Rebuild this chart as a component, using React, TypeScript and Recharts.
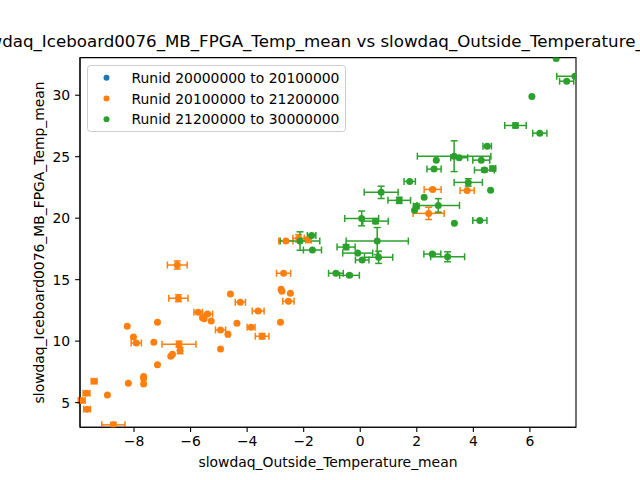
import React from 'react';
import {
  ScatterChart,
  Scatter,
  XAxis,
  YAxis,
  ErrorBar,
  ReferenceArea,
  Legend,
  Customized,
} from 'recharts';

// ---- data ----
const seriesNames = [
  'Runid 20000000 to 20100000',
  'Runid 20100000 to 21200000',
  'Runid 21200000 to 30000000',
];
const seriesColors = ['#1f77b4', '#ff7f0e', '#2ca02c'];

const blueX: number[] = [];
const blueY: number[] = [];
const blueEx: number[] = [];
const blueEy: number[] = [];

const orangeX = [
  -6.47, -6.43, -4.59, -4.24, -3.61, -5.73, -5.4, -5.58, -5.52, -5.27, -4.36, -7.17, -8.24,
  -4.94, -4.68, -3.86, -3.47, -8.02, -7.92, -7.3, -6.41, -6.37, -4.94, -6.7, -6.64, -7.17,
  -7.66, -7.66, -7.66, -8.2, -9.41, -9.68, -8.94, -9.85, -9.66, -8.73, -2.82, -2.71, -2.8,
  -2.77, -2.47, -2.54, -2.63, -2.18, -1.83, 2.56, 3.78, 2.42,
];
const orangeY = [
  16.19, 13.49, 13.83, 13.16, 12.45, 12.35, 12.21, 11.91, 11.83, 11.64, 11.45, 11.53, 11.21,
  10.91, 10.56, 11.13, 10.4, 10.34, 9.85, 9.91, 9.75, 9.23, 9.37, 8.77, 8.93, 8.07,
  7.12, 6.97, 6.52, 6.58, 6.74, 5.77, 5.61, 5.17, 4.47, 3.19, 11.53, 15.52, 14.22,
  14.05, 13.89, 13.24, 18.14, 18.36, 18.22, 22.34, 22.26, 20.39,
];
const orangeEx = [
  0.35, 0.34, 0, 0.18, 0.21, 0.15, 0.18, 0, 0, 0, 0, 0, 0,
  0.18, 0.05, 0.14, 0.24, 0, 0.18, 0, 0.6, 0, 0, 0, 0, 0,
  0, 0, 0, 0, 0.1, 0.12, 0, 0.12, 0.12, 0.41, 0, 0.25, 0,
  0, 0, 0.2, 0.25, 0.2, 0.1, 0.3, 0.25, 0.55,
];
const orangeEy = [
  0.33, 0.28, 0, 0, 0.05, 0, 0.05, 0, 0, 0, 0, 0, 0,
  0, 0, 0, 0.22, 0, 0, 0, 0.25, 0.25, 0, 0, 0, 0,
  0, 0, 0, 0, 0, 0, 0, 0, 0, 0.2, 0, 0, 0,
  0, 0, 0, 0, 0.3, 0, 0.1, 0, 0.5,
];

const greenX = [
  6.93, 7.59, 7.3, 6.07, 5.49, 6.35, 4.49, 3.32, 3.5, 2.69, 4.28, 2.61, 4.39, 4.69,
  1.75, 3.82, 4.61, 0.74, 2.26, 1.38, 2.76, 1.98, 1.92, 3.33, 4.23, 0.05, 0.54, 0.6,
  -0.5, -0.09, 0.07, 0.65, -0.86, -0.38, -1.72, -2.13, -1.69, 2.55, 3.09,
];
const greenY = [
  32.98, 31.54, 31.14, 29.89, 27.54, 26.91, 25.86, 25.04, 24.92, 24.72, 24.72, 23.99, 23.91, 24.05,
  22.99, 22.91, 22.28, 22.1, 21.71, 21.45, 21.04, 20.98, 20.65, 19.58, 19.82, 19.98, 19.76, 18.14,
  17.65, 17.16, 16.6, 16.82, 15.52, 15.35, 18.6, 18.14, 17.41, 17.08, 16.86,
];
const greenEx = [
  0, 0.64, 0.25, 0, 0.38, 0.25, 0.15, 1.3, 0.3, 0, 0.3, 0.25, 0.35, 0.1,
  0.2, 0.5, 0, 0.6, 0, 0.4, 0.75, 0.1, 0, 0, 0.25, 0.6, 0.45, 1.1,
  0.32, 0.53, 0.24, 0.5, 0.26, 0.35, 0.15, 0.7, 0.32, 0.3, 0.6,
];
const greenEy = [
  0, 0, 0, 0, 0.2, 0, 0, 1.25, 0, 0, 0, 0, 0.15, 0,
  0, 0.3, 0, 0.5, 0, 0.25, 0.55, 0, 0, 0, 0, 0.6, 0.2, 1.1,
  0.2, 0, 0, 0.5, 0, 0.1, 0, 0.75, 0, 0.1, 0.4,
];

const xTicks = [-8, -6, -4, -2, 0, 2, 4, 6];
const yTicks = [5, 10, 15, 20, 25, 30];
const xDomain: [number, number] = [-9.91, 7.63];
const yDomain: [number, number] = [3.0, 33.06];

const titleText = 'slowdaq_Iceboard0076_MB_FPGA_Temp_mean vs slowdaq_Outside_Temperature_mean';
const xLabel = 'slowdaq_Outside_Temperature_mean';
const yLabel = 'slowdaq_Iceboard0076_MB_FPGA_Temp_mean';

const build = (xs: number[], ys: number[], exs: number[], eys: number[]) =>
  xs.map((x, i) => ({ x, y: ys[i], ex: exs[i], ey: eys[i] }));

const seriesData = [
  build(blueX, blueY, blueEx, blueEy),
  build(orangeX, orangeY, orangeEx, orangeEy),
  build(greenX, greenY, greenEx, greenEy),
];

const FONT = '"DejaVu Sans", sans-serif';

const fmt = (v: number) => (v < 0 ? '\u2212' + Math.abs(v) : String(v));

const dot = (color: string) => (props: any) => {
  if (props.cx == null || props.cy == null) return <g />;
  return <circle cx={props.cx} cy={props.cy} r={3.5} fill={color} />;
};

const LegendBox = (props: any) => {
  const payload = props.payload || [];
  return (
    <svg width={260} height={68} style={{ display: 'block', fontFamily: FONT }}>
      <rect x={0.5} y={0.5} width={258} height={66} rx={3} fill="#ffffff" fillOpacity={0.8} stroke="#cccccc" />
      {payload.map((p: any, i: number) => (
        <g key={i}>
          <circle cx={19.5} cy={12.7 + i * 20.8} r={3} fill={p.color} />
          <text x={44.5} y={12.7 + i * 20.8} dy="0.36em" fontSize={13.9} fill="#000">
            {p.value}
          </text>
        </g>
      ))}
    </svg>
  );
};

const Texts = () => (
  <g style={{ fontFamily: FONT }}>
    <text x={328} y={47} textAnchor="middle" fontSize={16.67} fill="#000" fontFamily={FONT}>
      {titleText}
    </text>
    <text x={328} y={467} textAnchor="middle" fontSize={13.9} fill="#000" fontFamily={FONT}>
      {xLabel}
    </text>
    <text
      x={0}
      y={0}
      transform="translate(44,242.4) rotate(-90)"
      textAnchor="middle"
      fontSize={13.9}
      fill="#000"
      fontFamily={FONT}
    >
      {yLabel}
    </text>
  </g>
);

export default function App() {
  return (
    <div style={{ position: 'absolute', left: 0, top: 0, width: 640, height: 480, background: '#fff' }}>
      <ScatterChart
        width={640}
        height={480}
        margin={{ top: 57.6, right: 64, bottom: 22.8, left: 20 }}
        style={{ fontFamily: FONT }}
      >
        <XAxis
          type="number"
          dataKey="x"
          domain={xDomain}
          ticks={xTicks}
          allowDataOverflow
          height={30}
          tickSize={4.9}
          tickMargin={4.5}
          tickFormatter={fmt}
          stroke="#000"
          tick={{ fill: '#000', fontSize: 13.9, fontFamily: FONT }}
          tickLine={{ stroke: '#000', strokeWidth: 1.1 }}
          axisLine={{ stroke: '#000', strokeWidth: 1.1 }}
        />
        <YAxis
          type="number"
          dataKey="y"
          domain={yDomain}
          ticks={yTicks}
          allowDataOverflow
          width={60}
          tickSize={4.9}
          tickMargin={4.9}
          tickFormatter={fmt}
          stroke="#000"
          tick={{ fill: '#000', fontSize: 13.9, fontFamily: FONT }}
          tickLine={{ stroke: '#000', strokeWidth: 1.1 }}
          axisLine={{ stroke: '#000', strokeWidth: 1.1 }}
        />
        {seriesData.map((d, i) => (
          <Scatter
            key={i}
            name={seriesNames[i]}
            data={d}
            fill={seriesColors[i]}
            isAnimationActive={false}
            shape={dot(seriesColors[i])}
          >
            <ErrorBar dataKey="ex" direction="x" width={3.5} stroke={seriesColors[i]} strokeWidth={1.5} isAnimationActive={false} />
            <ErrorBar dataKey="ey" direction="y" width={3.5} stroke={seriesColors[i]} strokeWidth={1.5} isAnimationActive={false} />
          </Scatter>
        ))}
        <Customized component={Texts} />
        <ReferenceArea
          x1={xDomain[0]}
          x2={xDomain[1]}
          y1={yDomain[0]}
          y2={yDomain[1]}
          fill="none"
          stroke="#000"
          strokeWidth={1.1}
          ifOverflow="visible"
        />
        <Legend
          layout="horizontal"
          verticalAlign="middle"
          align="center"
          content={LegendBox}
          wrapperStyle={{ position: 'absolute', left: 87, top: 65, width: 260, height: 68 }}
        />
      </ScatterChart>
      {/* clip error bars at the right edge of the axes box, as matplotlib does */}
      <div
        style={{
          position: 'absolute',
          left: 577.3,
          top: 55,
          width: 62.7,
          height: 375,
          background: '#fff',
          pointerEvents: 'none',
        }}
      />
    </div>
  );
}
